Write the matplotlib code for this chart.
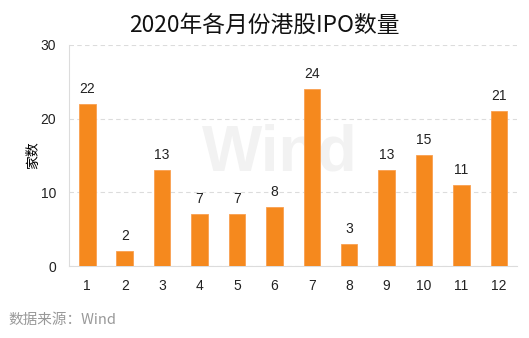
import matplotlib.pyplot as plt

plt.rcParams['font.family'] = ['Liberation Sans', 'Noto Sans CJK SC', 'DejaVu Sans']

months = [str(m) for m in range(1, 13)]
ipo_count = [22, 2, 13, 7, 7, 8, 24, 3, 13, 15, 11, 21]
y_ticks = [0, 10, 20, 30]

bar_color = '#F5891E'
grid_color = '#DCDCDC'

fig = plt.figure(figsize=(5.29, 3.38), dpi=100)
ax = fig.add_axes([0.130, 0.213, 0.847, 0.654])

x = list(range(1, len(months) + 1))

# watermark behind the bars
ax.text(6.15, 15.3, 'Wind', fontsize=46, fontweight='bold', color='#F2F2F2',
        ha='center', va='center', zorder=0, family='Liberation Sans')

ax.bar(x, ipo_count, width=0.44, color=bar_color, edgecolor='#F9A050',
       linewidth=0.6, zorder=3)

for xi, v in zip(x, ipo_count):
    ax.annotate(str(v), (xi, v), xytext=(0, 6), textcoords='offset points',
                ha='center', va='bottom', fontsize=10, color='#222222')

ax.set_xlim(0.505, 12.48)
ax.set_ylim(0, 30)
ax.set_xticks(x)
ax.set_xticklabels(months)
ax.set_yticks(y_ticks)
ax.tick_params(axis='both', length=0, labelsize=10, colors='#222222')
ax.tick_params(axis='x', pad=9.5)
ax.tick_params(axis='y', pad=9)

ax.yaxis.grid(True, linestyle=(0, (4, 3)), color=grid_color, linewidth=0.8, zorder=1)
ax.set_axisbelow(True)
for s in ['top', 'right']:
    ax.spines[s].set_visible(False)
ax.spines['left'].set_color(grid_color)
ax.spines['bottom'].set_color(grid_color)

ax.set_ylabel('家数', fontsize=10, family='Noto Sans CJK SC', labelpad=0)

fig.text(0.5, 0.926, '2020年各月份港股IPO数量', ha='center', va='center',
         fontsize=16.4, family='Noto Sans CJK SC', color='#111111')
fig.text(0.015, 0.053, '数据来源：Wind', ha='left', va='center', fontsize=10.5,
         family=['Noto Sans CJK SC', 'Liberation Sans'], color='#999999')

fig.savefig('out.png', dpi=100)
